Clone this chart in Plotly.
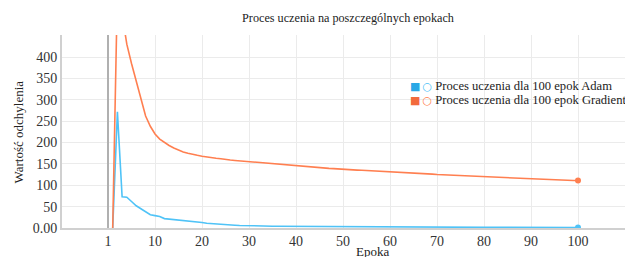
import plotly.graph_objects as go

epochs = list(range(1, 101))

adam = [0, 272, 73, 72, 62, 52, 45, 38, 31, 29,
        27, 22, 21, 20, 19, 17, 16, 15, 14, 13,
        11, 10, 9, 8.5, 8, 7, 6.5, 6, 5.5, 5,
        4.8, 4.6, 4.5, 4.3, 4.2, 4, 3.9, 3.8, 3.7, 3.6,
        3.5, 3.4, 3.3, 3.2, 3.1, 3, 2.9, 2.9, 2.8, 2.7,
        2.7, 2.6, 2.5, 2.5, 2.4, 2.4, 2.3, 2.3, 2.2, 2.2,
        2.1, 2.1, 2, 2, 2, 1.9, 1.9, 1.9, 1.8, 1.8,
        1.8, 1.7, 1.7, 1.7, 1.6, 1.6, 1.6, 1.6, 1.5, 1.5,
        1.5, 1.5, 1.4, 1.4, 1.4, 1.4, 1.4, 1.3, 1.3, 1.3,
        1.3, 1.3, 1.2, 1.2, 1.2, 1.2, 1.2, 1.2, 1.1, 1.1]

gradient = [0, 560, 500, 430, 385, 345, 300, 262, 238, 220,
            208, 200, 193, 187, 182, 178, 175, 172, 170, 168,
            166, 165, 163, 162, 160, 159, 158, 157, 156, 155,
            154, 153, 152, 151, 150, 149, 148, 147, 146.5, 146,
            145, 144, 143, 142, 141, 140, 139.5, 139, 138, 137,
            136.5, 136, 135.5, 135, 134.5, 134, 133.5, 133, 132.5, 131.5,
            131, 130.5, 130, 129.5, 128.5, 128, 127.5, 127, 126, 125,
            124.5, 124, 123.5, 123, 122.5, 122, 121.5, 121, 120.5, 120,
            119.5, 119, 118.5, 118, 117, 116.5, 116, 115.5, 115, 114,
            113.5, 113, 113, 112.5, 112, 112, 111.5, 111.5, 111, 111]

series_names = ["Proces uczenia dla 100 epok Adam",
                "Proces uczenia dla 100 epok Gradient"]
colors = ["#4fc3f7", "#ff7f50"]
box_colors = ["#2aa8e6", "#f26a3c"]

x_tickvals = [0, 10, 20, 30, 40, 50, 60, 70, 80, 90, 100]
x_ticktext = ["1", "10", "20", "30", "40", "50", "60", "70", "80", "90", "100"]
y_tickvals = [0, 50, 100, 150, 200, 250, 300, 350, 400, 450]
y_ticktext = ["0.00", "50", "100", "150", "200", "250", "300", "350", "400", ""]

FONT = "Liberation Serif"
W, H = 625, 257
L, T, B = 62, 35, 29
PW, PH = W - L, H - T - B

fig = go.Figure()
for ys, col, nm in zip([adam, gradient], colors, series_names):
    fig.add_trace(go.Scatter(x=epochs, y=ys, mode="lines", name=nm,
                             line=dict(color=col, width=1.6),
                             showlegend=False, hoverinfo="skip"))
    fig.add_trace(go.Scatter(x=[epochs[-1]], y=[ys[-1]], mode="markers", name=nm,
                             marker=dict(color=col, size=6),
                             showlegend=False, hoverinfo="skip"))

fig.update_layout(
    template="none",
    width=W, height=H,
    margin=dict(l=L, r=0, t=T, b=B, autoexpand=False),
    paper_bgcolor="white", plot_bgcolor="white",
    font=dict(family=FONT, size=13, color="#333"),
    title=dict(text="Proces uczenia na poszczególnych epokach",
               x=348 / W, xanchor="center", y=1 - 18 / H, yanchor="middle",
               font=dict(family=FONT, size=12.2, color="#222")),
    showlegend=False,
)
fig.update_xaxes(range=[-9.79, 110], tickvals=x_tickvals, ticktext=x_ticktext,
                 automargin=False,
                 showgrid=True, gridcolor="#ebebeb", gridwidth=1,
                 zeroline=True, zerolinecolor="#b0b0b0", zerolinewidth=1.5,
                 showline=True, linecolor="#d0d0d0", linewidth=1.5,
                 ticks="", tickfont=dict(family=FONT, size=14, color="#333"))
fig.update_yaxes(range=[0, 451.5], tickvals=y_tickvals, ticktext=y_ticktext,
                 automargin=False,
                 showgrid=True, gridcolor="#ebebeb", gridwidth=1,
                 zeroline=False,
                 showline=True, linecolor="#d0d0d0", linewidth=2,
                 ticks="", tickfont=dict(family=FONT, size=14, color="#333"))

# legend rows (checkbox + circle + label)
for i, (col, bcol, nm) in enumerate(zip(colors, box_colors, series_names)):
    fig.add_annotation(
        text=(f"<span style='color:{bcol};font-family:DejaVu Sans;font-size:11px'>■</span>"
              f"<span style='color:{col};font-family:DejaVu Sans;font-size:11px'>\u2009○</span> {nm}"),
        xref="paper", yref="paper",
        x=(409 - L) / PW, y=1 - (86 + 14 * i - T) / PH,
        xanchor="left", yanchor="middle", showarrow=False, borderpad=0,
        font=dict(family=FONT, size=12.6, color="#222"))

fig.add_annotation(text="Epoka", xref="paper", yref="paper",
                   x=(372 - L) / PW, y=-(251 - 228) / PH, xanchor="center", yanchor="middle",
                   showarrow=False, font=dict(family=FONT, size=13, color="#222"))
fig.add_annotation(text="Wartość odchylenia", xref="paper", yref="paper",
                   x=-(L - 18) / PW, y=0.5, xanchor="center", yanchor="middle",
                   textangle=-90, showarrow=False, font=dict(family=FONT, size=13, color="#222"))

fig.write_html("out.html",
               config={"displayModeBar": False, "staticPlot": True},
               post_script="document.body.style.margin='0';document.body.style.overflow='hidden';")
